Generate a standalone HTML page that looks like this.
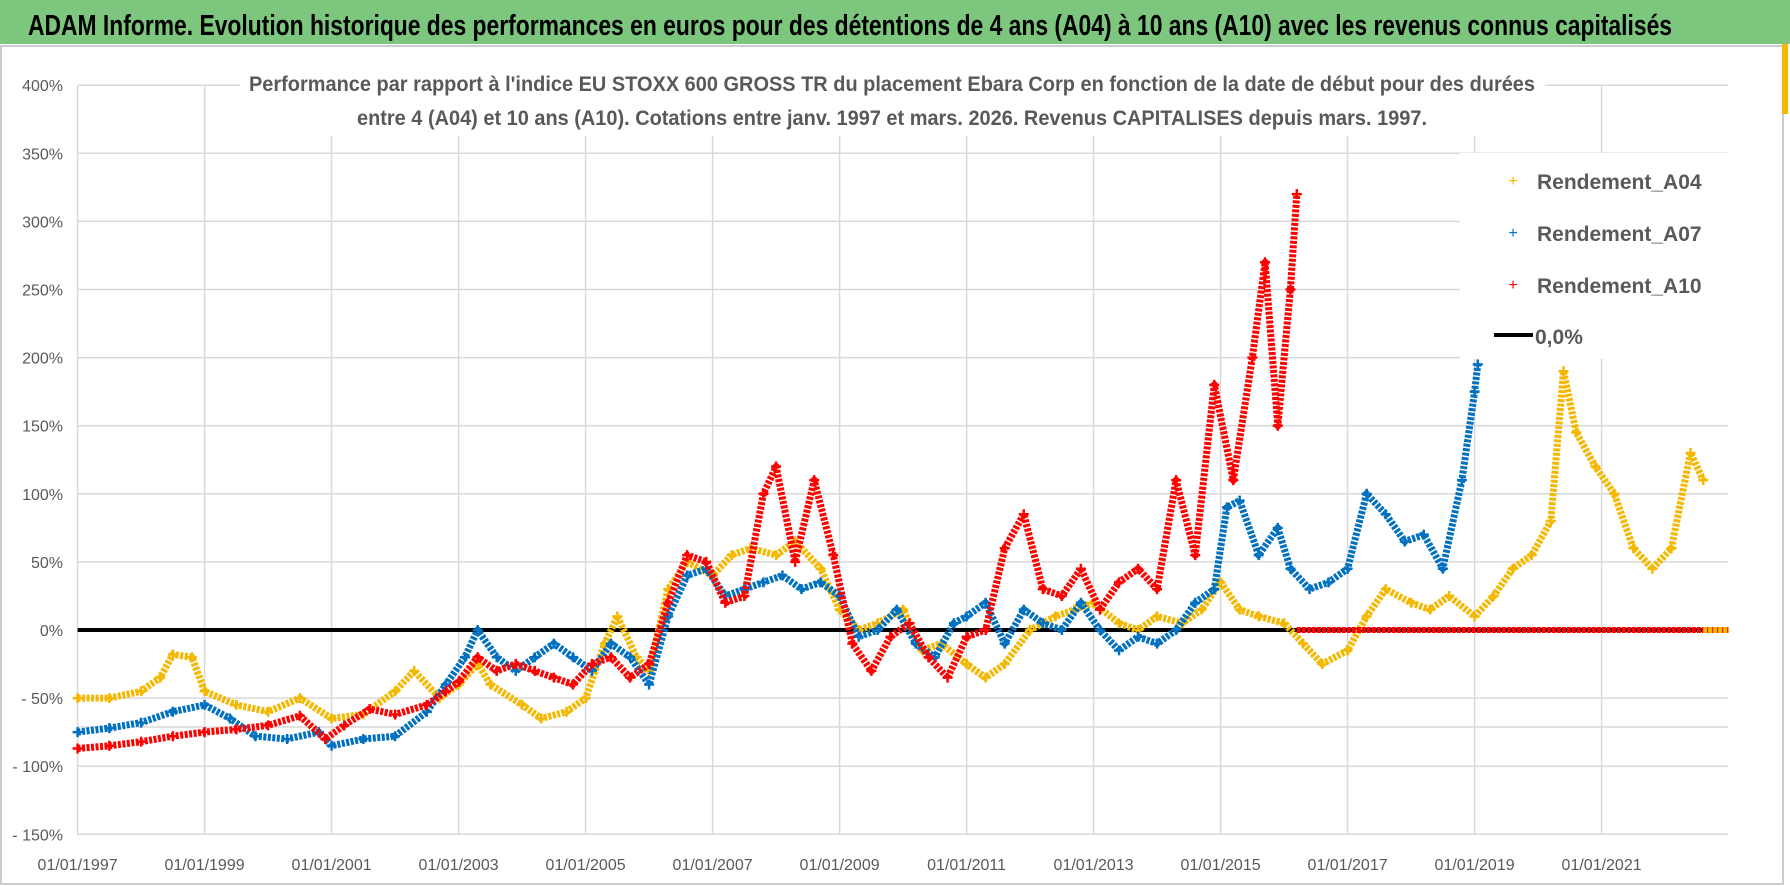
<!DOCTYPE html>
<html><head><meta charset="utf-8"><style>
html,body{margin:0;padding:0;background:#fff;}
svg{display:block;font-family:"Liberation Sans",sans-serif;}
</style></head><body>
<svg id="chart" width="1790" height="886" viewBox="0 0 1790 886" xmlns="http://www.w3.org/2000/svg">
<rect x="0" y="0" width="1790" height="886" fill="#fff"/>
<rect x="0" y="0" width="1790" height="44" fill="#7dc67d"/>
<text x="28" y="35" font-size="29" font-weight="bold" fill="#000" textLength="1644" lengthAdjust="spacingAndGlyphs">ADAM Informe. Evolution historique des performances en euros pour des détentions de 4 ans (A04) à 10 ans (A10) avec les revenus connus capitalisés</text>
<rect x="1" y="46" width="1782" height="838" fill="none" stroke="#bbb" stroke-width="1.5"/>
<rect x="1782" y="44" width="6" height="70" fill="#f5b800"/>
<g id="grid"></g>
<g id="series"></g>
<rect x="240" y="66" width="1305" height="70" fill="#fff"/>
<text x="249" y="91" font-size="21" font-weight="bold" fill="#595959" textLength="1286" lengthAdjust="spacingAndGlyphs">Performance par rapport à l'indice EU STOXX 600 GROSS TR  du placement Ebara Corp en fonction de la date de début pour des durées</text>
<text x="357" y="125" font-size="21" font-weight="bold" fill="#595959" textLength="1070" lengthAdjust="spacingAndGlyphs">entre 4 (A04) et 10 ans (A10).  Cotations entre janv. 1997 et mars. 2026.  Revenus CAPITALISES depuis mars. 1997.</text>
<g>
<rect x="1460" y="153" width="268" height="206" fill="#fff"/>
<g><text x="1513" y="186" font-size="16" fill="#f5b800" text-anchor="middle">+</text><text x="1537" y="189" font-size="21" font-weight="bold" fill="#595959">Rendement_A04</text></g>
<g><text x="1513" y="238" font-size="16" fill="#0070c0" text-anchor="middle">+</text><text x="1537" y="241" font-size="21" font-weight="bold" fill="#595959">Rendement_A07</text></g>
<g><text x="1513" y="290" font-size="16" fill="#ff0000" text-anchor="middle">+</text><text x="1537" y="293" font-size="21" font-weight="bold" fill="#595959">Rendement_A10</text></g>
<g><line x1="1494" y1="335" x2="1533" y2="335" stroke="#000" stroke-width="4"/><text x="1535" y="344" font-size="21" font-weight="bold" fill="#595959">0,0%</text></g>
</g>
</svg>
<script>
const yTicks=[400,350,300,250,200,150,100,50,0,-50,-100,-150];
const yTickLabels=["400%","350%","300%","250%","200%","150%","100%","50%","0%","- 50%","- 100%","- 150%"];
const xTicks=[1997,1999,2001,2003,2005,2007,2009,2011,2013,2015,2017,2019,2021];
const xTickLabels=["01/01/1997","01/01/1999","01/01/2001","01/01/2003","01/01/2005","01/01/2007","01/01/2009","01/01/2011","01/01/2013","01/01/2015","01/01/2017","01/01/2019","01/01/2021"];
const a04Dates=[1997,1997.5,1998,1998.3,1998.5,1998.8,1999,1999.5,2000,2000.5,2001,2001.5,2002,2002.3,2002.7,2003,2003.3,2003.5,2004,2004.3,2004.7,2005,2005.3,2005.5,2005.8,2006,2006.3,2006.6,2007,2007.3,2007.6,2008,2008.3,2008.7,2009,2009.3,2009.6,2010,2010.3,2010.6,2011,2011.3,2011.6,2012,2012.4,2012.7,2013,2013.4,2013.7,2014,2014.4,2014.7,2015,2015.3,2015.6,2016,2016.3,2016.6,2017,2017.3,2017.6,2018,2018.3,2018.6,2019,2019.3,2019.6,2019.9,2020.2,2020.4,2020.6,2020.9,2021.2,2021.5,2021.8,2022.1,2022.4,2022.6];
const a04Values=[-50,-50,-45,-35,-18,-20,-45,-55,-60,-50,-65,-62,-45,-30,-50,-40,-25,-40,-55,-65,-60,-50,-10,10,-20,-30,30,50,40,55,60,55,65,45,15,0,5,15,-15,-10,-25,-35,-25,0,10,15,20,5,0,10,5,15,35,15,10,5,-10,-25,-15,10,30,20,15,25,10,25,45,55,80,190,145,120,100,60,45,60,130,110];
const a07Dates=[1997,1997.5,1998,1998.5,1999,1999.4,1999.8,2000.3,2000.8,2001,2001.5,2002,2002.5,2002.8,2003.1,2003.3,2003.6,2003.9,2004.2,2004.5,2004.8,2005.1,2005.4,2005.7,2006,2006.3,2006.6,2006.9,2007.2,2007.5,2007.8,2008.1,2008.4,2008.7,2009,2009.3,2009.6,2009.9,2010.2,2010.5,2010.8,2011,2011.3,2011.6,2011.9,2012.2,2012.5,2012.8,2013.1,2013.4,2013.7,2014,2014.3,2014.6,2014.9,2015.1,2015.3,2015.6,2015.9,2016.1,2016.4,2016.7,2017,2017.3,2017.6,2017.9,2018.2,2018.5,2018.8,2019,2019.05];
const a07Values=[-75,-72,-68,-60,-55,-65,-78,-80,-75,-85,-80,-78,-60,-40,-20,0,-20,-30,-20,-10,-20,-30,-10,-20,-40,10,40,45,25,30,35,40,30,35,25,-5,0,15,-10,-20,5,10,20,-10,15,5,0,20,0,-15,-5,-10,0,20,30,90,95,55,75,45,30,35,45,100,85,65,70,45,110,175,195];
const a10Dates=[1997,1997.5,1998,1998.5,1999,1999.5,2000,2000.5,2000.9,2001.2,2001.6,2002,2002.5,2002.8,2003,2003.3,2003.6,2003.9,2004.2,2004.5,2004.8,2005.1,2005.4,2005.7,2006,2006.3,2006.6,2006.9,2007.2,2007.5,2007.8,2008,2008.3,2008.6,2008.9,2009.2,2009.5,2009.8,2010.1,2010.4,2010.7,2011,2011.3,2011.6,2011.9,2012.2,2012.5,2012.8,2013.1,2013.4,2013.7,2014,2014.3,2014.6,2014.9,2015.2,2015.5,2015.7,2015.9,2016.1,2016.2];
const a10Values=[-87,-85,-82,-78,-75,-73,-70,-63,-80,-70,-58,-62,-55,-45,-38,-20,-30,-25,-30,-35,-40,-25,-20,-35,-25,20,55,50,20,25,100,120,50,110,55,-10,-30,-5,5,-20,-35,-5,0,60,85,30,25,45,15,35,45,30,110,55,180,110,200,270,150,250,320];
const zeroRanges=[[2016.2,2023,"#ff0000"],[2022.6,2023,"#f5b800"]];
const NS="http://www.w3.org/2000/svg";
const X0=77.6,XW=63.5,Y0=630,YS=68.1/50,YEAR0=1997;
function xs(d){return X0+(d-YEAR0)*XW;}
function ys(v){return Y0-v*YS;}
const grid=document.getElementById('grid');
function mk(tag,attrs,parent){const e=document.createElementNS(NS,tag);for(const k in attrs)e.setAttribute(k,attrs[k]);parent.appendChild(e);return e;}
yTicks.forEach((t,i)=>{
  const l=mk('line',{x1:X0,x2:1728,y1:ys(t),y2:ys(t),stroke:'#d9d9d9','stroke-width':1.5},grid);
  
  
  const tx=mk('text',{x:63,y:ys(t)+6,'font-size':16,fill:'#595959','text-anchor':'end'},grid);
  
  
  tx.textContent=yTickLabels[i];
});
const extra=mk('line',{x1:X0,x2:1728,y1:727,y2:727,stroke:'#d9d9d9','stroke-width':1.5},grid);


xTicks.forEach((t,i)=>{
  const l=mk('line',{x1:xs(t),x2:xs(t),y1:ys(400),y2:ys(-150),stroke:'#d9d9d9','stroke-width':1.5},grid);
  
  
  const tx=mk('text',{x:xs(t),y:870,'font-size':16,fill:'#595959','text-anchor':'middle'},grid);
  
  
  tx.textContent=xTickLabels[i];
});
const ser=document.getElementById('series');
const zl=mk('line',{x1:X0,x2:1728,y1:ys(0),y2:ys(0),stroke:'#000','stroke-width':4},ser);


function drawSeries(dates,vals,color,name){
  const g=mk('g',{},ser);
  
  
  const pts=dates.map((d,i)=>xs(d).toFixed(1)+','+ys(vals[i]).toFixed(1)).join(' ');
  mk('polyline',{points:pts,fill:'none',stroke:color,'stroke-width':7,'stroke-linejoin':'round','stroke-dasharray':'3 1.5'},g);
  dates.forEach((d,i)=>{
    const x=xs(d),y=ys(vals[i]);
    const p=mk('path',{d:`M${x-5},${y}H${x+5}M${x},${y-5}V${y+5}`,stroke:color,'stroke-width':2.5},g);
    
    
  });
}
drawSeries(a04Dates,a04Values,'#f5b800','series-a04');
drawSeries(a07Dates,a07Values,'#0070c0','series-a07');
drawSeries(a10Dates,a10Values,'#ff0000','series-a10');
zeroRanges.forEach(r=>{
  const l=mk('line',{x1:xs(r[0]),x2:xs(r[1]),y1:ys(0),y2:ys(0),stroke:r[2],'stroke-width':6,'stroke-dasharray':'4 1'},ser);
  
  
});
</script>
</body></html>
